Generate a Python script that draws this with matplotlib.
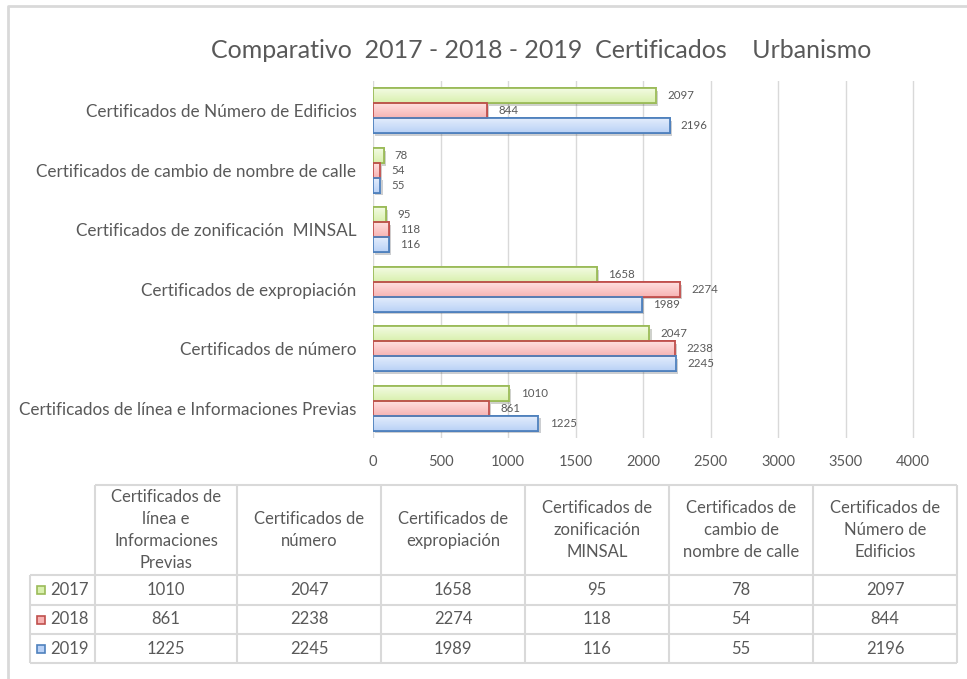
#librerias
import numpy as np
import matplotlib
matplotlib.use("Agg")
import matplotlib.pyplot as plt
from matplotlib.colors import LinearSegmentedColormap
from matplotlib.patches import Rectangle
import matplotlib.patheffects as pe

plt.rcParams['font.family'] = ['Lato', 'DejaVu Sans']

#datos
categorias = ["Certificados de línea e Informaciones Previas",
              "Certificados de número",
              "Certificados de expropiación",
              "Certificados de zonificación  MINSAL",
              "Certificados de cambio de nombre de calle",
              "Certificados de Número de Edificios"]
encabezados = ["Certificados de\nlínea e\nInformaciones\nPrevias",
               "Certificados de\nnúmero",
               "Certificados de\nexpropiación",
               "Certificados de\nzonificación\nMINSAL",
               "Certificados de\ncambio de\nnombre de calle",
               "Certificados de\nNúmero de\nEdificios"]
anios = ["2017", "2018", "2019"]
v2017 = [1010, 2047, 1658, 95, 78, 2097]
v2018 = [861, 2238, 2274, 118, 54, 844]
v2019 = [1225, 2245, 1989, 116, 55, 2196]
xticks = [0, 500, 1000, 1500, 2000, 2500, 3000, 3500, 4000]

series = [v2017, v2018, v2019]
# colores: (arriba, abajo, borde)
colores = [("#f3fbe3", "#d9f0ae", "#9bbb59"),
           ("#ffe0e0", "#f7b3b3", "#c0504d"),
           ("#e3edfc", "#b9d1f6", "#4f81bd")]
gris = "#595959"

W, H = 967, 679
fig = plt.figure(figsize=(W / 100, H / 100), dpi=100)

def caja(l, t, r, b):
    return [l / W, 1 - b / H, (r - l) / W, (b - t) / H]

#grafico de barras
ax = fig.add_axes(caja(373, 81, 947, 438))
alto = 0.25
y = np.arange(len(categorias))
desplaz = [alto, 0, -alto]
for s, vals in enumerate(series):
    c1, c2, borde = colores[s]
    cmap = LinearSegmentedColormap.from_list("g%d" % s, [c2, c1])
    grad = np.linspace(0, 1, 50).reshape(-1, 1)
    for i, v in enumerate(vals):
        yc = y[i] + desplaz[s]
        rect = Rectangle((0, yc - alto / 2), v, alto, facecolor=c2,
                         edgecolor=borde, lw=1.3, zorder=3,
                         path_effects=[pe.SimplePatchShadow(offset=(1.5, -2), alpha=0.25),
                                       pe.Normal()])
        ax.add_patch(rect)
        im = ax.imshow(grad, extent=[0, v, yc - alto / 2, yc + alto / 2],
                       origin="lower", aspect="auto", cmap=cmap, zorder=3.1)
        im.set_clip_path(rect)
        edge = Rectangle((0, yc - alto / 2), v, alto, facecolor="none",
                         edgecolor=borde, lw=1.3, zorder=3.2)
        ax.add_patch(edge)
        ax.annotate(str(v), (v, yc), xytext=(8, 0), textcoords="offset points",
                    va="center", ha="left", fontsize=8.3, color=gris)

ax.set_xlim(0, 4250)
ax.set_ylim(-0.5, len(categorias) - 0.5)
ax.set_xticks(xticks)
ax.set_xticklabels([str(t) for t in xticks])
ax.set_yticks(y)
ax.set_yticklabels(categorias)
ax.tick_params(axis="both", length=0, colors=gris, labelsize=12.3)
ax.tick_params(axis="x", pad=12, labelsize=10.5)
ax.tick_params(axis="y", pad=12)
ax.grid(axis="x", color="#d9d9d9", lw=1, zorder=0)
for sp in ax.spines.values():
    sp.set_visible(False)
ax.set_axisbelow(True)

#titulo
fig.text(541 / W, 1 - 50 / H, "Comparativo  2017 - 2018 - 2019  Certificados    Urbanismo",
         ha="center", va="center", fontsize=18, color=gris)

#tabla de datos
tb = fig.add_axes([0, 0, 1, 1])
tb.set_xlim(0, W)
tb.set_ylim(H, 0)
tb.axis("off")
tb.patch.set_alpha(0)
linea = "#d9d9d9"
cols = [95, 237, 381, 525, 669, 813, 957]
filas = [575, 605, 634, 663]
tb.plot([8, 8, 975], [690, 6, 6], color=linea, lw=2)
tb.hlines(485, cols[0], cols[-1], color=linea, lw=1.5)
tb.hlines(filas, 30, cols[-1], color=linea, lw=1.5)
tb.vlines(cols, 485, filas[-1], color=linea, lw=1.5)
tb.vlines(30, filas[0], filas[-1], color=linea, lw=1.5)
for j, txt in enumerate(encabezados):
    tb.text((cols[j] + cols[j + 1]) / 2, 530, txt, ha="center", va="center",
            fontsize=12, color=gris, linespacing=1.45)
for s, vals in enumerate(series):
    yc = (filas[s] + filas[s + 1]) / 2
    c1, c2, borde = colores[s]
    tb.add_patch(Rectangle((37, yc - 4), 8, 8, facecolor=c2, edgecolor=borde, lw=1.2))
    tb.text(50, yc, anios[s], ha="left", va="center", fontsize=12, color=gris)
    for j, v in enumerate(vals):
        tb.text((cols[j] + cols[j + 1]) / 2, yc, str(v), ha="center", va="center",
                fontsize=12, color=gris)

fig.savefig("out.png", dpi=100)
